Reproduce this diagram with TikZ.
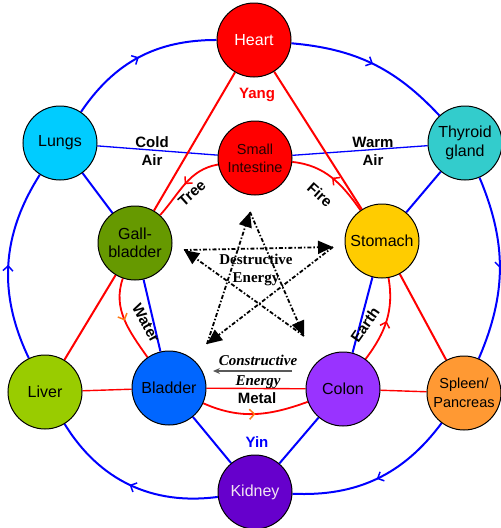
\documentclass[tikz,border=0pt]{standalone}
\usepackage{fontspec}
\setmainfont{Liberation Sans}
\newfontfamily\timesfont{Liberation Serif}
\usetikzlibrary{arrows.meta}
\usetikzlibrary{backgrounds}
\usetikzlibrary{decorations.markings}
\definecolor{heartred}{RGB}{255,0,0}
\definecolor{lungcyan}{RGB}{0,204,255}
\definecolor{thyroidteal}{RGB}{51,204,204}
\definecolor{gallgreen}{RGB}{102,153,0}
\definecolor{stomachgold}{RGB}{255,204,0}
\definecolor{livergreen}{RGB}{153,204,0}
\definecolor{bladderblue}{RGB}{0,102,255}
\definecolor{colonpurple}{RGB}{153,51,255}
\definecolor{spleenorange}{RGB}{255,153,51}
\definecolor{kidneypurple}{RGB}{102,0,204}
\definecolor{arroworange}{RGB}{255,120,20}

\tikzset{
  organ/.style={circle, draw=black, line width=1pt, minimum size=74pt, inner sep=0pt,
    align=center, font=\fontsize{16}{18.5}\selectfont},
  lbl/.style={font=\fontsize{15}{18}\selectfont\bfseries, align=center, inner sep=0pt},
  midarrow/.style={postaction={decorate}, decoration={markings,
    mark=at position 0.5 with {\arrow{Straight Barb[length=5pt,width=10pt,line width=1.5pt]}}}},
  orangearrow/.style={postaction={decorate}, decoration={markings,
    mark=at position 0.5 with {\arrow{Straight Barb[length=5pt,width=10pt,line width=1.5pt,color=arroworange]}}}},
  ring/.style={blue, line width=2pt, midarrow},
  yin/.style={blue, line width=2pt},
  yinthin/.style={blue, line width=1.3pt},
  yang/.style={red, line width=2pt},
  yangthin/.style={red, line width=1.4pt},
  cycle/.style={red, line width=1.8pt},
  destr/.style={line width=1.8pt, dash pattern=on 4pt off 2pt on 1.5pt off 2pt,
    -{Triangle[length=15pt,width=13pt]}},
}

\begin{document}
\begin{tikzpicture}[x=1pt, y=-1pt]
\useasboundingbox (0,0) rectangle (501,528);

% organs
\node[organ, fill=heartred, text=white] (heart) at (254,40) {Heart};
\node[organ, fill=lungcyan] (lungs) at (60,143) {Lungs};
\node[organ, fill=thyroidteal] (thyroid) at (465,143) {Thyroid\\gland};
\node[organ, fill=heartred, text=black!85!red, font=\fontsize{14.5}{18}\selectfont] (si) at (255,158) {Small\\Intestine};
\node[organ, fill=gallgreen] (gb) at (135,243) {Gall-\\bladder};
\node[organ, fill=stomachgold] (stomach) at (382,241) {Stomach};
\node[organ, fill=livergreen] (liver) at (45,392) {Liver};
\node[organ, fill=bladderblue] (bladder) at (169,388) {Bladder};
\node[organ, fill=colonpurple] (colon) at (343,389) {Colon};
\node[organ, fill=spleenorange, font=\fontsize{14.5}{19}\selectfont] (spleen) at (464,393) {Spleen/\\Pancreas};
\node[organ, fill=kidneypurple, text=white!90!violet] (kidney) at (255,492) {Kidney};

% labels
\node[lbl] (cold) at (152,151) {Cold\\Air};
\node[lbl] (warm) at (373,151) {Warm\\Air};
\node[lbl, red] (yang) at (257,95) {Yang};
\node[lbl, blue] (yinlbl) at (257,442) {Yin};
\node[lbl, rotate=42] (tree) at (192,193) {Tree};
\node[lbl, rotate=-42] (fire) at (320,195) {Fire};
\node[lbl, rotate=55] (earth) at (365,325) {Earth};
\node[lbl, rotate=-61] (water) at (146,323) {Water};
\node[lbl] (metal) at (257,398) {Metal};
\node[lbl, font=\fontsize{15}{18}\selectfont\timesfont\bfseries] (destlbl) at (256,270) {Destructive\\Energy};
\node[lbl, font=\fontsize{15}{18}\selectfont\timesfont\bfseries\itshape] (conslbl) at (258,360) {Constructive};
\node[lbl, font=\fontsize{15}{18}\selectfont\timesfont\bfseries\itshape] (conslbl2) at (258,382) {Energy};
\coordinate (consR) at (292,371);
\coordinate (consL) at (213,371);
\draw[black!65, line width=1.2pt, -{Stealth[length=7pt,width=6pt]}] (consR) -- (consL);

% destructive pentagram
\coordinate (pT) at (250,212);
\coordinate (pL) at (184,250);
\coordinate (pR) at (333,247);
\coordinate (pBL) at (207,344);
\coordinate (pBR) at (304,336);
\draw[destr] (pL) -- (pR);
\draw[destr] (pR) -- (pBL);
\draw[destr] (pBL) -- (pT);
\draw[destr] (pT) -- (pBR);
\draw[destr] (pBR) -- (pL);

\begin{scope}[on background layer]
  % outer ring
  \draw[ring] (heart) to[bend left=21] (thyroid);
  \draw[ring] (thyroid) to[bend left=23] (spleen);
  \draw[ring] (spleen) to[bend left=28] (kidney);
  \draw[ring] (kidney) to[bend left=33] (liver);
  \draw[ring] (liver) to[bend left=29] (lungs);
  \draw[ring] (lungs) to[bend left=28] (heart);
  % yin lines
  \draw[yin] (lungs) -- (gb);
  \draw[yin] (gb) -- (bladder);
  \draw[yin] (bladder) -- (kidney);
  \draw[yin] (kidney) -- (colon);
  \draw[yin] (colon) -- (stomach);
  \draw[yin] (stomach) -- (thyroid);
  \draw[yinthin] (lungs) -- (si);
  \draw[yinthin] (si) -- (thyroid);
  % yang lines
  \draw[yang] (heart) -- (gb);
  \draw[yang] (heart) -- (stomach);
  \draw[yang] (gb) -- (liver);
  \draw[yang] (stomach) -- (spleen);
  \draw[yangthin] (liver) -- (bladder);
  \draw[yangthin] (bladder) -- (colon);
  \draw[yangthin] (colon) -- (spleen);
  % constructive cycle
  \draw[cycle, midarrow] (si) to[out=190, in=48] (gb);
  \draw[cycle, orangearrow] (gb) to[out=251, in=125] (bladder);
  \draw[cycle, orangearrow] (bladder) to[out=336, in=200] (colon);
  \draw[cycle, midarrow] (colon) to[out=53, in=280] (stomach);
  \draw[cycle, midarrow] (stomach) to[out=125, in=354] (si);
\end{scope}
\end{tikzpicture}
\end{document}
